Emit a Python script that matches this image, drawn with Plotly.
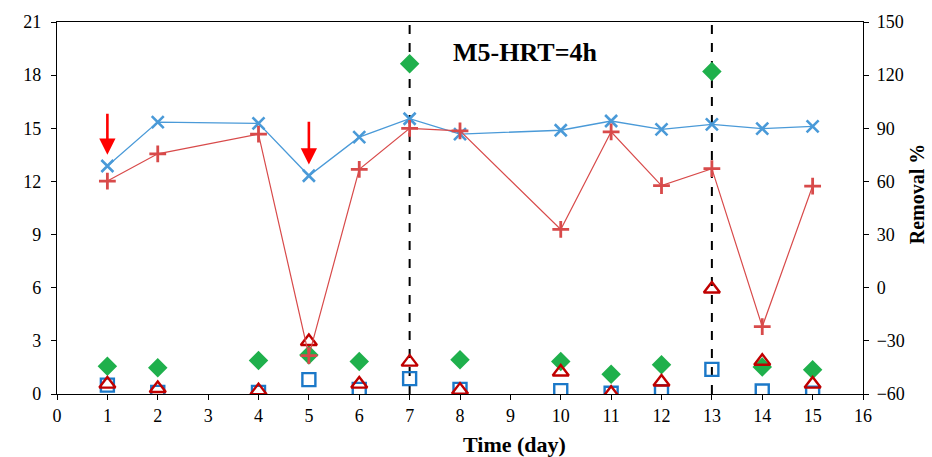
import plotly.graph_objects as go

# Sampling days
days = [1, 2, 4, 5, 6, 7, 8, 10, 11, 12, 13, 14, 15]

# Removal efficiencies (%), right axis
removal_x = [68.7, 93.5, 92.8, 63.2, 85.0, 95.4, 86.7, 88.9, 94.1, 89.4, 92.2, 89.8, 91.1]
removal_plus = [60.2, 75.6, 86.7, -38.3, 66.8, 90.0, 88.5, 32.9, 88.0, 57.6, 67.2, -22.0, 57.4]

# Concentrations, left axis
conc_diamond = [1.56, 1.48, 1.89, 2.2, 1.83, 18.65, 1.94, 1.83, 1.11, 1.65, 18.2, 1.52, 1.37]
conc_square = [0.5, 0.09, 0.09, 0.81, 0.26, 0.87, 0.26, 0.19, 0.04, 0.13, 1.39, 0.17, 0.04]
conc_triangle = [0.56, 0.31, 0.19, 2.96, 0.56, 1.8, 0.22, 1.24, 0.04, 0.68, 5.93, 1.85, 0.56]

# Phase boundaries and marked days
phase_days = [7, 13]
arrow_days = [1, 5]
arrow_tops = [15.9, 15.45]
arrow_tips = [13.5, 12.95]

BLUE = "#1b78c8"
RED = "#c00000"
GREEN = "#1fb04c"
FONT = "Liberation Serif"

fig = go.Figure()

fig.add_trace(go.Scatter(
    x=days, y=removal_x, yaxis="y2", mode="lines+markers",
    line=dict(color="#4a9ad8", width=1.3),
    marker=dict(symbol="x-thin-open", size=12, line=dict(color=BLUE, width=2.6)),
))
fig.add_trace(go.Scatter(
    x=days, y=conc_square, mode="markers",
    marker=dict(symbol="square-open", size=13, color=BLUE, line=dict(color=BLUE, width=2.4)),
))
fig.add_trace(go.Scatter(
    x=days, y=conc_diamond, mode="markers",
    marker=dict(symbol="diamond", size=15, color=GREEN, line=dict(width=0)),
))
fig.add_trace(go.Scatter(
    x=days, y=conc_triangle, mode="markers",
    marker=dict(symbol="triangle-up-open", size=14, color=RED, line=dict(color=RED, width=2.4)),
))
fig.add_trace(go.Scatter(
    x=days, y=removal_plus, yaxis="y2", mode="lines+markers",
    line=dict(color="#d84a4a", width=1.2),
    marker=dict(symbol="cross-thin-open", size=12, line=dict(color=RED, width=2.8)),
))

shapes = []
for d in phase_days:
    shapes.append(dict(type="line", xref="x", yref="paper", x0=d, x1=d, y0=0, y1=1,
                       line=dict(color="black", width=2, dash="dash"), layer="below"))

annotations = [
    dict(x=9.3, y=19.3, xref="x", yref="y", text="<b>M5-HRT=4h</b>", showarrow=False,
         font=dict(family=FONT, size=26, color="black")),
    dict(x=0.567, y=-0.135, xref="paper", yref="paper", text="<b>Time (day)</b>",
         xanchor="center", yanchor="middle",
         showarrow=False, font=dict(family=FONT, size=22, color="black")),
    dict(x=1.067, y=0.537, xref="paper", yref="paper", text="<b>Removal %</b>",
         xanchor="center", yanchor="middle",
         textangle=-90, showarrow=False, font=dict(family=FONT, size=20, color="black")),
]
for d, top, tip in zip(arrow_days, arrow_tops, arrow_tips):
    annotations.append(dict(
        x=d, y=tip, ax=d, ay=top, xref="x", yref="y", axref="x", ayref="y",
        text="", showarrow=True, arrowhead=2, arrowsize=1.25, arrowwidth=2.6,
        arrowcolor="#ff0000"))

axis_common = dict(
    showline=True, linecolor="black", linewidth=1.2, ticks="outside", ticklen=5,
    tickcolor="black", tickwidth=1.2, showgrid=False, zeroline=False,
    tickfont=dict(family=FONT, size=18, color="black"),
)

fig.update_layout(
    width=932, height=457, margin=dict(l=57, r=69, t=16, b=63),
    paper_bgcolor="white", plot_bgcolor="white", showlegend=False,
    shapes=shapes, annotations=annotations,
    xaxis=dict(range=[0, 16], dtick=1, tick0=0, mirror=True, ticklabelstandoff=0,
               **axis_common),
    yaxis=dict(range=[0, 21], dtick=3, tick0=0, ticklabelstandoff=6,
               ticklabelposition="outside", **axis_common),
    yaxis2=dict(range=[-60, 150], dtick=30, tick0=-60, overlaying="y", side="right",
                ticklabelstandoff=4, ticklabelposition="outside", **axis_common),
)

fig.write_html("out.html")
